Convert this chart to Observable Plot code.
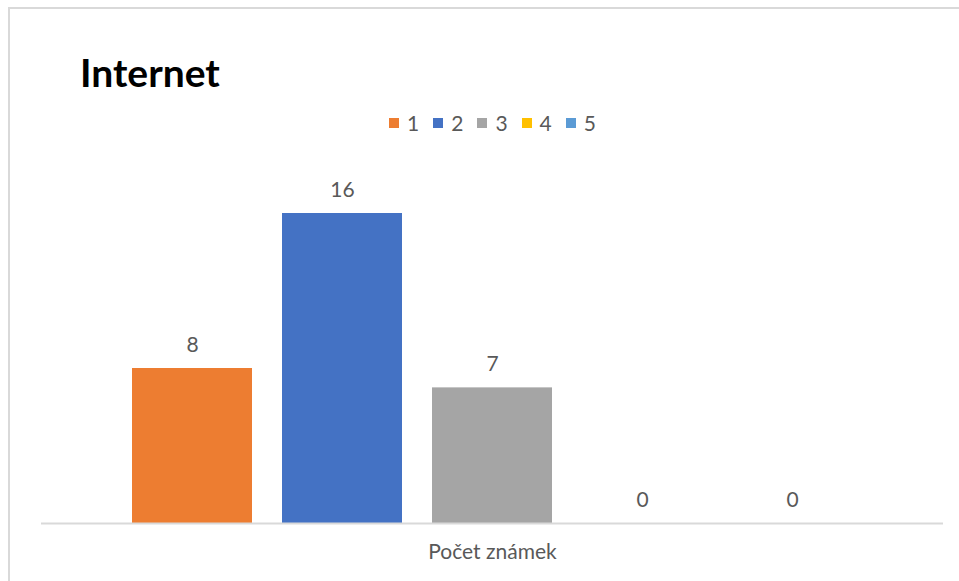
<!DOCTYPE html>
<html><head><meta charset="utf-8">
<script src="https://cdn.jsdelivr.net/npm/d3@7"></script>
<script src="https://cdn.jsdelivr.net/npm/@observablehq/plot@0.6"></script>
<style>
html,body{margin:0;padding:0;background:#fff;overflow:hidden;}
#wrap{position:relative;width:959px;height:581px;overflow:hidden;background:#fff;font-family:Lato,"Open Sans",sans-serif;}
#frameTop{position:absolute;left:8px;top:7px;width:951px;height:2px;background:#d9d9d9;}
#frameLeft{position:absolute;left:8px;top:7px;width:2px;height:574px;background:#d9d9d9;}
#title{position:absolute;left:80px;top:53px;font-size:39px;line-height:1;font-weight:700;color:#000;white-space:nowrap;}
#legend{position:absolute;left:389px;top:106px;}
#chart{position:absolute;left:0;top:150px;}
#legend .lg-swatches{margin:0 !important;min-height:33px;}
#legend .lg-swatch{margin-right:14px !important;}
#legend .lg-swatch > svg{margin-right:8px !important;}
</style></head>
<body>
<div id="wrap">
  <div id="frameTop"></div>
  <div id="frameLeft"></div>
  <div id="title"></div>
  <div id="legend"></div>
  <div id="chart"></div>
</div>
<script>
const titleText = "Internet";
const categories = ["1", "2", "3", "4", "5"];
const values = [8, 16, 7, 0, 0];
const colors = ["#ED7D31", "#4472C4", "#A5A5A5", "#FFC000", "#5B9BD5"];
const groupLabel = "Počet známek";

const data = categories.map((c, i) => ({cat: c, value: values[i]}));

document.getElementById("title").textContent = titleText;

const chart = Plot.plot({
  width: 959,
  height: 431,
  marginLeft: 41,
  marginRight: 16,
  marginTop: 63,
  marginBottom: 58,
  x: {domain: categories, range: [115.75, 868.25], paddingInner: 0.2, paddingOuter: 0.1, axis: null},
  y: {domain: [0, 16], axis: null},
  color: {domain: categories, range: colors},
  style: {fontFamily: "Lato, 'Open Sans', sans-serif", fontSize: "21px", color: "#595959", background: "transparent"},
  marks: [
    Plot.barY(data, {x: "cat", y: "value", fill: "cat"}),
    Plot.ruleY([0], {stroke: "#d9d9d9", strokeWidth: 2}),
    Plot.text(data, {x: "cat", y: "value", text: d => String(d.value), lineAnchor: "bottom", dy: -17, fill: "#595959", fontSize: 21}),
    Plot.text([groupLabel], {frameAnchor: "bottom", dy: 29, lineAnchor: "middle", fill: "#595959", fontSize: 21})
  ]
});
document.getElementById("chart").appendChild(chart);

const legend = chart.legend("color", {
  legend: "swatches",
  swatchSize: 10,
  className: "lg",
  style: {fontFamily: "Lato, 'Open Sans', sans-serif", fontSize: "21px", color: "#595959"}
});
document.getElementById("legend").appendChild(legend);
</script>
</body></html>
